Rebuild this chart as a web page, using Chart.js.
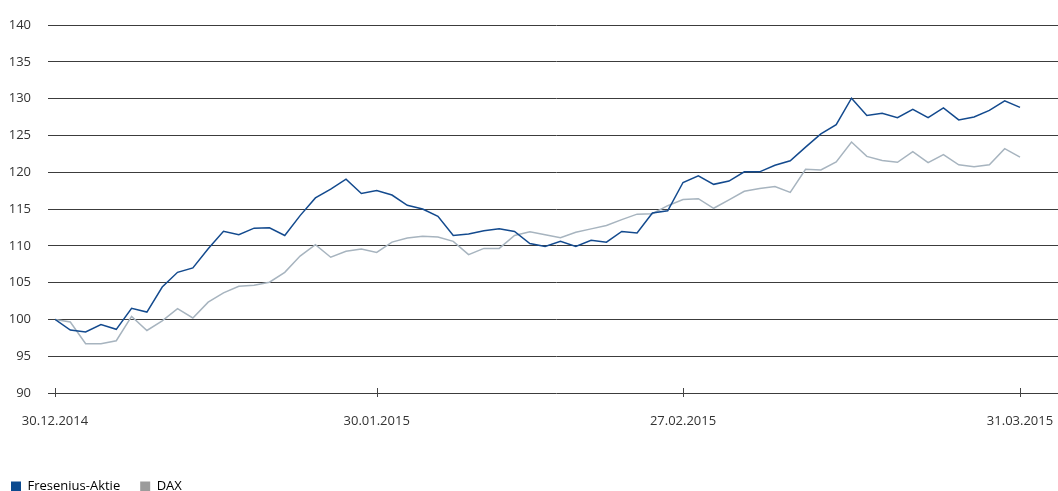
<!DOCTYPE html>
<html>
<head>
<meta charset="utf-8">
<script src="https://cdn.jsdelivr.net/npm/chart.js@4"></script>
<style>
  html, body { margin: 0; padding: 0; background: #fff; overflow: hidden; }
  #wrap { width: 1058px; height: 491px; position: relative; }
</style>
</head>
<body>
<div id="wrap"><canvas id="kursChart"></canvas></div>
<script>
// Handelstage 30.12.2014 - 31.03.2015
const dates = [
  '30.12.2014',
  '02.01.2015', '05.01.2015', '06.01.2015', '07.01.2015', '08.01.2015', '09.01.2015',
  '12.01.2015', '13.01.2015', '14.01.2015', '15.01.2015', '16.01.2015',
  '19.01.2015', '20.01.2015', '21.01.2015', '22.01.2015', '23.01.2015',
  '26.01.2015', '27.01.2015', '28.01.2015', '29.01.2015', '30.01.2015',
  '02.02.2015', '03.02.2015', '04.02.2015', '05.02.2015', '06.02.2015',
  '09.02.2015', '10.02.2015', '11.02.2015', '12.02.2015', '13.02.2015',
  '16.02.2015', '17.02.2015', '18.02.2015', '19.02.2015', '20.02.2015',
  '23.02.2015', '24.02.2015', '25.02.2015', '26.02.2015', '27.02.2015',
  '02.03.2015', '03.03.2015', '04.03.2015', '05.03.2015', '06.03.2015',
  '09.03.2015', '10.03.2015', '11.03.2015', '12.03.2015', '13.03.2015',
  '16.03.2015', '17.03.2015', '18.03.2015', '19.03.2015', '20.03.2015',
  '23.03.2015', '24.03.2015', '25.03.2015', '26.03.2015', '27.03.2015',
  '30.03.2015', '31.03.2015'
];

const tickDates = ['30.12.2014', '30.01.2015', '27.02.2015', '31.03.2015'];
const yTicks = [90, 95, 100, 105, 110, 115, 120, 125, 130, 135, 140];

const fresenius = [
  100, 98.55, 98.3, 99.3, 98.65, 101.5, 101.0, 104.4, 106.4, 107.0, 109.6,
  111.96, 111.5, 112.4, 112.45, 111.4, 114.1, 116.5, 117.7, 119.05, 117.1, 117.5,
  116.9, 115.5, 115.0, 114.0, 111.4, 111.6, 112.05, 112.3, 111.95, 110.3,
  109.9, 110.6, 109.9, 110.75, 110.5, 111.95, 111.75, 114.45, 114.75, 118.6,
  119.5, 118.35, 118.8, 120.05, 120.05, 120.95, 121.55, 123.4, 125.2, 126.45,
  130.05, 127.7, 128.0, 127.4, 128.55, 127.4, 128.75, 127.1, 127.5, 128.4,
  129.7, 128.8
];

const dax = [
  100, 99.65, 96.7, 96.7, 97.1, 100.4, 98.5, 99.8, 101.45, 100.2, 102.35,
  103.6, 104.5, 104.65, 105.05, 106.4, 108.6, 110.15, 108.45, 109.25, 109.55, 109.1,
  110.5, 111.05, 111.3, 111.2, 110.6, 108.8, 109.65, 109.65, 111.4, 111.9,
  111.5, 111.1, 111.85, 112.3, 112.75, 113.55, 114.3, 114.35, 115.45, 116.3,
  116.4, 115.1, 116.25, 117.4, 117.8, 118.05, 117.25, 120.4, 120.3, 121.4,
  124.1, 122.15, 121.6, 121.35, 122.8, 121.3, 122.4, 121.0, 120.75, 121.0,
  123.2, 122.05
];

function toPoints(values) {
  return values.map((v, i) => ({ x: i, y: v }));
}

// kleine Striche quer über die x-Achse
const crossTicks = {
  id: 'crossTicks',
  afterDraw(chart) {
    const x = chart.scales.x;
    const bottom = chart.chartArea.bottom;
    const ctx = chart.ctx;
    ctx.save();
    ctx.strokeStyle = '#444';
    ctx.lineWidth = 1;
    x.ticks.forEach(t => {
      const px = Math.round(x.getPixelForValue(t.value)) + 0.5;
      ctx.beginPath();
      ctx.moveTo(px, bottom - 5);
      ctx.lineTo(px, bottom + 4);
      ctx.stroke();
    });
    ctx.restore();
  }
};

Chart.defaults.font.family = "'Open Sans', sans-serif";
Chart.defaults.font.size = 13;
Chart.defaults.color = '#333';

const ctx = document.getElementById('kursChart').getContext('2d');

new Chart(ctx, {
  type: 'line',
  data: {
    datasets: [{
      label: 'Fresenius-Aktie',
      data: toPoints(fresenius),
      borderColor: '#134a8e',
      backgroundColor: '#0b4a8f',
      borderWidth: 1.5,
      pointRadius: 0,
      tension: 0
    }, {
      label: 'DAX',
      data: toPoints(dax),
      borderColor: '#a7b4bf',
      backgroundColor: '#9b9b9b',
      borderWidth: 1.5,
      pointRadius: 0,
      tension: 0
    }]
  },
  options: {
    responsive: true,
    maintainAspectRatio: false,
    animation: false,
    layout: {
      padding: { top: 25, left: -9, right: 0, bottom: -12 }
    },
    plugins: {
      tooltip: { enabled: false },
      legend: {
        position: 'bottom',
        align: 'start',
        labels: {
          boxWidth: 10,
          boxHeight: 10,
          padding: 20,
          generateLabels(chart) {
            return chart.data.datasets.map((ds, i) => ({
              text: ds.label,
              fillStyle: ds.backgroundColor,
              strokeStyle: ds.backgroundColor,
              lineWidth: 0,
              datasetIndex: i
            }));
          }
        }
      }
    },
    scales: {
      x: {
        type: 'linear',
        min: 0,
        max: 65.48,
        grid: { display: false, drawTicks: false },
        border: { display: false },
        afterBuildTicks(scale) {
          scale.ticks = tickDates.map(d => ({ value: dates.indexOf(d) }));
        },
        afterFit(scale) {
          scale.height = 67;
          scale.paddingLeft = 0;
          scale.paddingRight = 0;
        },
        ticks: {
          autoSkip: false,
          maxRotation: 0,
          padding: 20,
          callback: value => dates[value]
        }
      },
      y: {
        min: 90,
        max: 140,
        border: { display: false },
        grid: {
          color: '#3c3c3c',
          lineWidth: 1,
          drawTicks: true,
          tickLength: 7
        },
        afterBuildTicks(scale) {
          scale.ticks = yTicks.map(v => ({ value: v }));
        },
        afterFit(scale) {
          scale.width = 64;
        },
        ticks: {
          padding: 17
        }
      }
    }
  },
  plugins: [crossTicks]
});
</script>
</body>
</html>
